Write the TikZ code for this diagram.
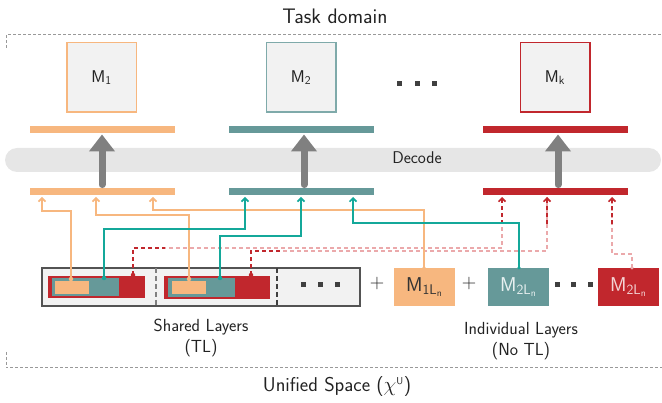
\documentclass[tikz,border=0pt]{standalone}
\usetikzlibrary{arrows.meta}
\definecolor{corange}{HTML}{F7B77F}
\definecolor{cteal}{HTML}{669999}
\definecolor{ctealb}{HTML}{7FAAAA}
\definecolor{ctl}{HTML}{14A89A}
\definecolor{cred}{HTML}{C1272D}
\definecolor{cpink}{HTML}{EBA9AB}
\definecolor{cgray}{HTML}{808080}
\definecolor{cband}{HTML}{E6E6E6}
\definecolor{cbox}{HTML}{F2F2F2}
\definecolor{cframe}{HTML}{999999}
\definecolor{cdot}{HTML}{404040}
\definecolor{ctext}{HTML}{222222}
\begin{document}
\begin{tikzpicture}[x=1pt,y=-1pt,font=\sffamily,text=ctext,
  mbox/.style={draw,line width=1.5pt,fill=cbox,minimum width=69.5pt,minimum height=69.5pt,inner sep=0pt,font=\sffamily\fontsize{17}{20}\selectfont},
  cbar/.style={minimum width=145pt,minimum height=7.5pt,inner sep=0pt},
  garrow/.style={draw=cgray,line width=7pt,line cap=round,-{Triangle[width=25pt,length=17pt]},shorten >=1pt,shorten <=3pt},
  oline/.style={draw=corange,line width=1.6pt,-{Straight Barb[width=7pt,length=3.5pt,line width=1.6pt]}},
  tline/.style={draw=ctl,line width=1.6pt,-{Straight Barb[width=7pt,length=3.5pt,line width=1.6pt]}},
  rline/.style={draw=cpink,line width=1.6pt,dash pattern=on 4pt off 3pt},
  rdark/.style={draw=cred,line width=1.6pt,dash pattern=on 4pt off 3pt},
  rtip/.style={draw=cred,line width=1.6pt,dash pattern=on 4pt off 3pt,-{Straight Barb[width=7pt,length=3.5pt,line width=1.6pt]}},
  sdot/.style={circle,inner sep=0pt,minimum size=4.5pt},
  lbox/.style={minimum width=61pt,minimum height=38pt,inner sep=0pt,font=\sffamily\fontsize{20}{22}\selectfont},
  sq/.style={fill=cdot,minimum size=5pt,inner sep=0pt},
  lbl/.style={font=\sffamily\fontsize{17.5}{21}\selectfont,align=center}
]
\useasboundingbox (0,0) rectangle (662,403);
% frame
\draw[cframe,line width=1pt,dash pattern=on 3pt off 2pt] (6,48) -- (6,35) -- (663,35);
\draw[cframe,line width=1pt,dash pattern=on 3pt off 2pt] (6,352) -- (6,368) -- (663,368);
\node[font=\sffamily\fontsize{21}{24}\selectfont] (title) at (335,16) {Task domain};
\node[font=\sffamily\fontsize{20}{24}\selectfont] (unified) at (337,387) {Unified Space ($\chi^{\scriptscriptstyle\mathsf{U}}$)};
% decode band
\node[fill=cband,rounded corners=12pt,minimum width=656pt,minimum height=24pt,inner sep=0pt] (band) at (333,160) {};
\node[font=\sffamily\fontsize{17}{20}\selectfont] (decode) at (417,158) {Decode};
% top models
\node[mbox,draw=corange] (m1) at (101.5,77.5) {M\textsubscript{1}};
\node[mbox,draw=ctealb] (m2) at (301,77.5) {M\textsubscript{2}};
\node[mbox,draw=cred] (mk) at (555,77.5) {M\textsubscript{k}};
\node[sq] (td1) at (399,84) {};
\node[sq] (td2) at (417,84) {};
\node[sq] (td3) at (434,84) {};
% bars
\node[cbar,fill=corange] (bt1) at (102.5,129.5) {};
\node[cbar,fill=cteal] (bt2) at (301.5,129.5) {};
\node[cbar,fill=cred] (bt3) at (555.5,129.5) {};
\node[cbar,fill=corange] (bb1) at (102.5,191.5) {};
\node[cbar,fill=cteal] (bb2) at (301.5,191.5) {};
\node[cbar,fill=cred] (bb3) at (555.5,191.5) {};
\draw[garrow] (bb1.north -| 102,0) -- (bt1.south -| 102,0);
\draw[garrow] (bb2.north -| 304,0) -- (bt2.south -| 304,0);
\draw[garrow] (bb3.north -| 558,0) -- (bt3.south -| 558,0);
% shared layers
\node[draw=cdot!90,line width=1.4pt,fill=cbox,minimum width=318pt,minimum height=38pt,inner sep=0pt] (shared) at (201,287) {};
\draw[cgray,line width=1.2pt,dash pattern=on 5pt off 3pt] (156,268) -- (156,306);
\draw[cdot,line width=1.2pt,dash pattern=on 5pt off 3pt] (277,268) -- (277,306);
\node[fill=cred,minimum width=97pt,minimum height=22pt,inner sep=0pt] (r1) at (96.5,287) {};
\node[fill=cteal,minimum width=67pt,minimum height=18pt,inner sep=0pt] (t1) at (85.5,287) {};
\node[fill=corange,minimum width=34pt,minimum height=13pt,inner sep=0pt] (o1) at (72,287.5) {};
\node[fill=cred,minimum width=106pt,minimum height=23pt,inner sep=0pt] (r2) at (217,287.5) {};
\node[fill=cteal,minimum width=67pt,minimum height=19pt,inner sep=0pt] (t2) at (201.5,287.5) {};
\node[fill=corange,minimum width=34pt,minimum height=13pt,inner sep=0pt] (o2) at (189,287.5) {};
\node[sq] (sd1) at (303,285) {};
\node[sq] (sd2) at (320,285) {};
\node[sq] (sd3) at (337,285) {};
% individual layers
\node[font=\fontsize{20}{22}\selectfont] (plus1) at (377,284) {+};
\node[font=\fontsize{20}{22}\selectfont] (plus2) at (469,284) {+};
\node[lbox,fill=corange,text=black!80] (l1) at (424.5,287) {M\textsubscript{1L\textsubscript{n}}};
\node[lbox,fill=cteal,text=white!85!cteal] (l2) at (518.5,287) {M\textsubscript{2L\textsubscript{n}}};
\node[lbox,fill=cred,text=white!80!cred] (l3) at (628.5,287) {M\textsubscript{2L\textsubscript{n}}};
\node[sq] (ld1) at (557,285) {};
\node[sq] (ld2) at (573,285) {};
\node[sq] (ld3) at (590,285) {};
% labels
\node[lbl] (sl) at (201,338) {Shared Layers\\(TL)};
\node[lbl] (il) at (521,341) {Individual Layers\\(No TL)};
% source points
\coordinate (so1) at (71,279);
\coordinate (so2) at (189,279);
\coordinate (so3) at (l1.north -| 424,0);
\coordinate (st1) at (104,278);
\coordinate (st2) at (220,278);
\coordinate (st3) at (l2.north -| 519,0);
\coordinate (sr1) at (133,275);
\coordinate (sr2) at (251,275);
\coordinate (sr3) at (l3.north -| 632,0);
% targets
\coordinate (ao1) at (42,197);
\coordinate (ao2) at (96,197);
\coordinate (ao3) at (153,197);
\coordinate (at1) at (245,197);
\coordinate (at2) at (301,197);
\coordinate (at3) at (353,197);
\coordinate (ar1) at (502,197);
\coordinate (ar2) at (547,197);
\coordinate (ar3) at (612,197);
% red dashed (faded)
\draw[rline] (sr1) |- (502,248) -- (ar1);
\draw[rline] (sr2) |- (547,251) -- (ar2);
\draw[rline] (sr3) |- (612,254) -- (ar3);
\draw[rdark] (sr1) |- (165,248);
\draw[rdark] (sr2) |- (282,251);
\draw[rtip] (502,224) -- (ar1);
\draw[rtip] (547,224) -- (ar2);
\draw[rtip] (612,224) -- (ar3);
% orange
\draw[oline] (so1) |- (42,211) -- (ao1);
\draw[oline] (so2) |- (96,215) -- (ao2);
\draw[oline] (so3) |- (153,210) -- (ao3);
% teal
\draw[tline] (st1) |- (245,229) -- (at1);
\draw[tline] (st2) |- (301,236) -- (at2);
\draw[tline] (st3) |- (353,223) -- (at3);
% dots
\node[sdot,fill=corange] at (so1) {};
\node[sdot,fill=corange] at (so2) {};
\node[sdot,fill=corange,minimum size=3.5pt] at (so3) {};
\node[sdot,fill=ctl] at (st1) {};
\node[sdot,fill=ctl] at (st2) {};
\node[sdot,fill=ctl,minimum size=3.5pt] at (st3) {};
\node[sdot,fill=cred] at (sr1) {};
\node[sdot,fill=cred] at (sr2) {};
\node[sdot,fill=cpink,minimum size=3.5pt] at (sr3) {};
\end{tikzpicture}
\end{document}
